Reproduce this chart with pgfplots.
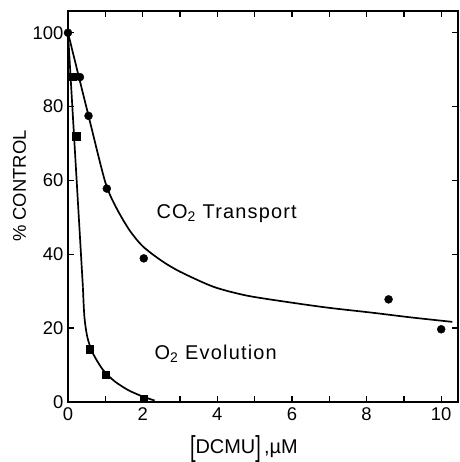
\documentclass[border=0pt]{standalone}
\usepackage{fontspec}
\setmainfont{Liberation Sans}
\usepackage{pgfplots}
\pgfplotsset{compat=1.18}

% points
\pgfplotstableread{
x y
0 100
0.32 88
0.55 77.5
1.04 57.8
2.03 38.9
8.59 27.8
10.0 19.7
}\cotwo
\pgfplotstableread{
x y
0.12 88
0.22 72
0.58 14.3
1.01 7.3
2.03 1.0
}\otwo

\begin{document}
\begin{tikzpicture}
\useasboundingbox (-68bp,-60bp) rectangle (392bp,402bp);
\begin{axis}[
  scale only axis, width=390bp, height=391bp,
  xmin=0, xmax=10.45, ymin=0, ymax=105.9,
  xtick={0,2,...,10}, minor xtick={1,3,...,9},
  ytick={0,20,...,100},
  tick align=inside, major tick length=6bp, minor tick length=6bp,
  axis line style={line width=1.5pt}, tick style={line width=1.4pt,black},
  tick label style={font=\fontsize{18.5}{20}\selectfont},
  /pgf/number format/assume math mode=true,
  xticklabel style={yshift=-2bp},
  yticklabel style={xshift=-1bp},
  xlabel={\raisebox{-3bp}{\scalebox{1}[1.45]{[}}DCMU\raisebox{-3bp}{\scalebox{1}[1.45]{]}}\,,µM},
  xlabel style={font=\fontsize{20}{22}\selectfont, at={(axis description cs:0.451,-0.12)}, anchor=center},
  ylabel={\% CONTROL},
  ylabel style={font=\fontsize{18.5}{20}\selectfont, at={(axis description cs:-0.124,0.552)}, anchor=center},
  clip=false,
]
% CO2 transport
\addplot[black, line width=1.7pt, smooth, tension=0.45] coordinates {
 (0,100) (0.55,77.5) (1.0,59.5) (1.3,52.5) (1.65,46.5) (2.0,42.2) (2.5,38.3) (3.0,35.3)
 (3.9,31.2) (4.8,28.8) (6.0,26.9) (7.0,25.5) (8.14,24.2) (9.2,22.9) (10.3,21.7)};
\addplot[black, only marks, mark=*, mark size=4bp] table {\cotwo};
% O2 evolution
\addplot[black, line width=1.7pt] coordinates {(0,100) (0.40,31)};
\addplot[black, line width=1.7pt, smooth, tension=0.5] coordinates {
 (0.40,31) (0.44,23) (0.52,17.5) (0.65,13.6) (0.8,10.8) (0.97,8.3) (1.25,5.6)
 (1.6,3.3) (1.9,1.9) (2.14,1.0) (2.32,0.4)};
\addplot[black, only marks, mark=square*, mark size=3.6bp] table {\otwo};
\node[anchor=west, font=\fontsize{20}{22}\selectfont\addfontfeature{LetterSpace=6}] at (axis cs:2.28,51.1) {CO\textsubscript{2} Transport};
\node[anchor=west, font=\fontsize{20}{22}\selectfont\addfontfeature{LetterSpace=6}] at (axis cs:2.23,13) {O\textsubscript{2} Evolution};
\end{axis}
\end{tikzpicture}
\end{document}
